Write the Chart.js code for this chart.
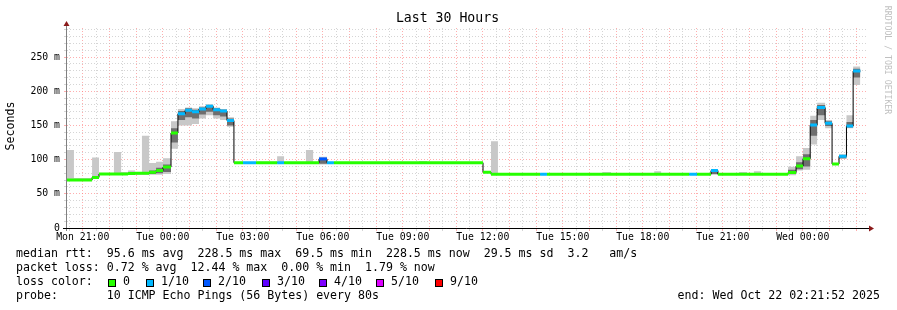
<!DOCTYPE html>
<html>
<head>
<meta charset="utf-8">
<script src="https://cdn.jsdelivr.net/npm/chart.js@4.4.0/dist/chart.umd.min.js"></script>
<style>
  html, body { margin: 0; padding: 0; background: #fff; }
</style>
</head>
<body>
<canvas id="graph_canvas" width="897" height="310"></canvas>
<script>
// time in hours since Mon 21:00, each entry starts a step
var segStart = [-0.59, -0.33, 0.35, 0.61, 1.17, 1.44, 1.70, 1.96, 2.22, 2.49, 2.75, 3.01, 3.31,
  3.57, 3.84, 4.10, 4.36, 4.62, 4.89, 5.15, 5.41, 5.67, 6.01, 6.50, 7.29, 7.55, 8.37, 8.64,
  8.86, 9.16, 9.42, 12.61, 12.91, 15.01, 15.31, 15.57, 16.36, 16.62, 17.15, 17.41, 19.51,
  19.81, 21.43, 21.69, 22.74, 23.04, 23.56, 23.82, 24.61, 24.91, 25.17, 25.44, 26.45, 26.75,
  27.01, 27.28, 27.54, 27.84, 28.10, 28.36, 28.64, 28.89];
var segEnd = 29.16;
// median rtt in ms
var median = [70, 70, 74, 79, 79, 79, 79.5, 80, 80, 81.5, 84, 89, 139,
  167, 172, 170, 174, 178, 173, 171, 157, 95.5, 95.5, 95.5, 95.5, 95.5, 95.5, 95.5,
  101, 95.5, 95.5, 95.5, 95.5, 81.5, 78.5, 78.5, 78.5, 78.5, 78.5, 78.5, 78.5,
  78.5, 78.5, 78.5, 78.5, 78.5, 84, 78.5, 78.5, 78.5, 78.5, 78.5, 81, 90.6,
  101.4, 150.6, 176, 153, 93.6, 104.8, 149, 229.5];
// loss bucket: 0 = 0, 1 = 1/10, 2 = 2/10
var lossIdx = [0, 0, 0, 0, 0, 0, 0, 0, 0, 0, 0, 0, 0,
  1, 1, 1, 1, 1, 1, 1, 1, 0, 1, 0, 1, 0, 0, 0,
  2, 1, 0, 0, 0, 0, 0, 0, 0, 0, 1, 0, 0,
  0, 0, 0, 1, 0, 1, 0, 0, 0, 0, 0, 0, 0,
  0, 1, 1, 1, 0, 1, 1, 1];
// smoke (spread of the pings)
var smokeLo = [69, 69, 73, 78, 78, 78, 78, 78, 78, 78, 78, 79, 116,
  150, 150, 152, 160, 165, 160, 158, 148, 95, 95, 95, 95, 95, 95, 95,
  93, 95, 95, 95, 95, 81, 78, 78, 78, 78, 78, 78, 78,
  78, 78, 78, 78, 78, 78, 78, 78, 78, 78, 78, 77, 84,
  85, 122, 158, 146, 93, 101, 146, 209];
var smokeHi = [114, 73, 103, 80, 111, 82, 84, 81, 135, 95, 97, 102, 156,
  174, 176, 175, 178, 181, 176, 174, 162, 96, 96, 97, 105, 96, 114, 96,
  104, 96, 96, 98, 96, 82, 127, 79, 80.5, 79, 79, 79, 82,
  79, 83, 79, 79, 79, 86, 79, 82, 79, 83, 79, 89.6, 105,
  117, 164, 183, 158, 95, 108, 165, 236];
var darkLo = [70, 70, 74, 79, 79, 79, 79.5, 80, 80, 79, 80, 82, 125,
  158, 162, 160, 166, 170, 165, 163, 150, 95.5, 95.5, 95.5, 95.5, 95.5, 95.5, 95.5,
  94, 95.5, 95.5, 95.5, 95.5, 81.5, 78.5, 78.5, 78.5, 78.5, 78.5, 78.5, 78.5,
  78.5, 78.5, 78.5, 78.5, 78.5, 79, 78.5, 78.5, 78.5, 78.5, 78.5, 79, 86,
  90, 135, 165, 149, 93.6, 102, 147, 220];
var darkHi = [70, 70, 74, 79, 79, 79, 79.5, 80, 80, 84, 88, 93, 146,
  171, 175, 173, 176, 180, 175, 173, 160, 95.5, 95.5, 95.5, 95.5, 95.5, 95.5, 95.5,
  100, 95.5, 95.5, 95.5, 95.5, 81.5, 78.5, 78.5, 78.5, 78.5, 78.5, 78.5, 78.5,
  78.5, 78.5, 78.5, 78.5, 78.5, 82, 78.5, 78.5, 78.5, 78.5, 78.5, 85, 96,
  108, 158, 180, 156, 93.6, 106, 155, 233];

var lossColors = ['#26ff00', '#00b8ff', '#0059ff', '#5e00ff', '#7e00ff', '#dd00ff', '#ff0000'];
var lossLabels = ['0', '1/10', '2/10', '3/10', '4/10', '5/10', '9/10'];

var xTickHours = [0, 3, 6, 9, 12, 15, 18, 21, 24, 27];
var xTickLabels = ['Mon 21:00', 'Tue 00:00', 'Tue 03:00', 'Tue 06:00', 'Tue 09:00',
  'Tue 12:00', 'Tue 15:00', 'Tue 18:00', 'Tue 21:00', 'Wed 00:00'];

var statLines = [
  'median rtt:  95.6 ms avg  228.5 ms max  69.5 ms min  228.5 ms now  29.5 ms sd  3.2   am/s',
  'packet loss: 0.72 % avg  12.44 % max  0.00 % min  1.79 % now'
];
var probeLine = 'probe:       10 ICMP Echo Pings (56 Bytes) every 80s';
var endLine = 'end: Wed Oct 22 02:21:52 2025';

var MONO = '"DejaVu Sans Mono", monospace';

function steps(vals) {
  var pts = segStart.map(function (t, i) { return {x: t, y: vals[i]}; });
  pts.push({x: segEnd, y: vals[vals.length - 1]});
  return pts;
}

function lossSegments(k) {
  var pts = [];
  for (var i = 0; i < segStart.length; i++) {
    if (lossIdx[i] !== k) continue;
    var t1 = i + 1 < segStart.length ? segStart[i + 1] : segEnd;
    pts.push({x: segStart[i], y: median[i]}, {x: t1, y: median[i]}, {x: t1, y: null});
  }
  return pts;
}

var clear = 'rgba(0,0,0,0)';
var datasets = [
  {data: steps(smokeLo), stepped: 'before', borderColor: clear, borderWidth: 0, pointRadius: 0, fill: false, order: 4},
  {data: steps(smokeHi), stepped: 'before', borderColor: clear, borderWidth: 0, pointRadius: 0, fill: '-1', backgroundColor: '#c8c8c8', order: 4},
  {data: steps(darkLo), stepped: 'before', borderColor: clear, borderWidth: 0, pointRadius: 0, fill: false, order: 3},
  {data: steps(darkHi), stepped: 'before', borderColor: clear, borderWidth: 0, pointRadius: 0, fill: '-1', backgroundColor: '#6e6e6e', order: 3},
  {data: steps(median), stepped: 'before', borderColor: '#000', borderWidth: 1, pointRadius: 0, fill: false, order: 2}
];
for (var k = 0; k < 3; k++) {
  datasets.push({data: lossSegments(k), borderColor: lossColors[k], borderWidth: 3, borderCapStyle: 'butt',
    pointRadius: 0, fill: false, spanGaps: false, order: 1});
}

var decor = {
  id: 'decor',
  afterDraw: function (chart) {
    var ctx = chart.ctx, a = chart.chartArea;
    ctx.save();
    // axes
    ctx.lineWidth = 1;
    ctx.strokeStyle = '#808080';
    ctx.beginPath(); ctx.moveTo(66.5, a.bottom + 3); ctx.lineTo(66.5, a.top - 5); ctx.stroke();
    ctx.strokeStyle = '#000';
    ctx.beginPath(); ctx.moveTo(63, a.bottom + 0.5); ctx.lineTo(a.right + 3, a.bottom + 0.5); ctx.stroke();
    ctx.fillStyle = '#8b1a1a';
    ctx.beginPath(); ctx.moveTo(63.5, 26); ctx.lineTo(69.5, 26); ctx.lineTo(66.5, 21); ctx.closePath(); ctx.fill();
    ctx.beginPath(); ctx.moveTo(869, 225.5); ctx.lineTo(869, 231.5); ctx.lineTo(874, 228.5); ctx.closePath(); ctx.fill();

    // title
    ctx.fillStyle = '#000';
    ctx.textBaseline = 'middle';
    ctx.textAlign = 'center';
    ctx.font = '13.2px ' + MONO;
    ctx.fillText('Last 30 Hours', 447.5, 19);

    // y title
    ctx.font = '11.6px ' + MONO;
    ctx.save();
    ctx.translate(11, 126);
    ctx.rotate(-Math.PI / 2);
    ctx.fillText('Seconds', 0, 0);
    ctx.restore();

    // watermark
    ctx.save();
    ctx.fillStyle = '#c0c0c0';
    ctx.font = '8.2px ' + MONO;
    ctx.translate(887, 60);
    ctx.rotate(Math.PI / 2);
    ctx.fillText('RRDTOOL / TOBI OETIKER', 0, 0);
    ctx.restore();

    // legend
    ctx.textAlign = 'left';
    ctx.font = '11.6px ' + MONO;
    ctx.fillText(statLines[0], 16, 254);
    ctx.fillText(statLines[1], 16, 268);
    ctx.fillText('loss color:', 16, 282);
    var boxX = [108, 146, 203, 262, 319, 376, 435];
    for (var i = 0; i < lossLabels.length; i++) {
      ctx.fillStyle = lossColors[i];
      ctx.fillRect(boxX[i], 279, 8, 8);
      ctx.strokeStyle = '#000';
      ctx.strokeRect(boxX[i] + 0.5, 279.5, 7, 7);
      ctx.fillStyle = '#000';
      ctx.fillText(lossLabels[i], boxX[i] + 15, 282);
    }
    ctx.fillText(probeLine, 16, 296);
    ctx.textAlign = 'right';
    ctx.fillText(endLine, 880, 296);
    ctx.restore();
  }
};

var red = 'rgba(255,120,120,0.6)';
var grey = 'rgba(185,185,185,0.6)';

window.onload = function () {
  var graph_ctx = document.getElementById('graph_canvas').getContext('2d');
  window.smoke_graph = new Chart(graph_ctx, {
    type: 'line',
    data: {datasets: datasets},
    plugins: [decor],
    options: {
      responsive: false,
      animation: false,
      layout: {padding: {top: 28, right: 30, bottom: 62, left: 0}},
      plugins: {legend: {display: false}, tooltip: {enabled: false}},
      scales: {
        x: {
          type: 'linear',
          min: -0.59,
          max: 29.41,
          afterBuildTicks: function (scale) {
            var t = [];
            for (var v = -0.5; v <= 29; v += 0.5) t.push({value: v});
            scale.ticks = t;
          },
          afterFit: function (scale) { scale.height = 20; },
          ticks: {
            autoSkip: false, maxRotation: 0, padding: 1,
            color: '#000', font: {family: MONO, size: 9.8},
            callback: function (v) {
              var i = xTickHours.indexOf(v);
              return i >= 0 ? xTickLabels[i] : '';
            }
          },
          grid: {
            color: function (c) { return Number.isInteger(c.tick.value) ? red : grey; },
            tickLength: 3
          },
          border: {display: false, dash: [1, 2]}
        },
        y: {
          min: 0,
          max: 292.4,
          afterBuildTicks: function (scale) {
            var t = [];
            for (var v = 0; v <= 290; v += 10) t.push({value: v});
            scale.ticks = t;
          },
          afterFit: function (scale) { scale.width = 67; },
          ticks: {
            autoSkip: false, padding: 4,
            color: '#000', font: {family: MONO, size: 9.8},
            callback: function (v) {
              if (v % 50 !== 0) return '';
              return v === 0 ? '0' : v + ' m';
            }
          },
          grid: {
            color: function (c) { return c.tick.value % 50 === 0 ? red : grey; },
            tickLength: 3
          },
          border: {display: false, dash: [1, 2]}
        }
      }
    }
  });
};
</script>
</body>
</html>
